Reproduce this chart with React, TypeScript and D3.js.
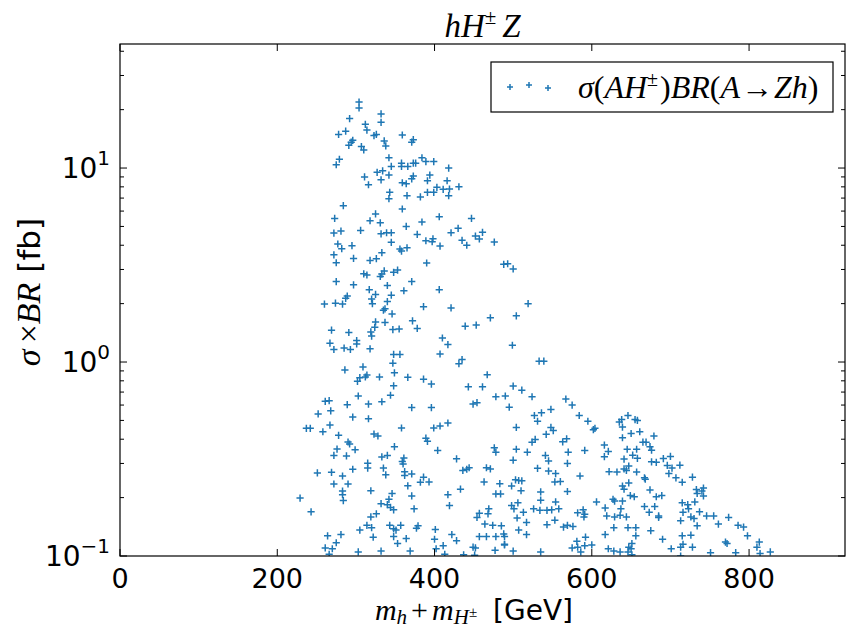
import React from "react";
import * as d3 from "d3";

// m_h + m_H± [GeV]
const massSum: number[] = [
  304,304,332,292,332,312,287,314,278,326,323,359,296,294,291,336,373,371,307,310,338,342,384,279,275,345,358,358,366,373,376,389,399,418,
  327,334,342,311,332,373,371,394,359,364,391,316,416,403,411,419,343,391,399,342,365,382,418,284,359,406,273,325,318,331,384,364,272,281,306,332,339,345,378,345,389,398,397,407,277,295,282,356,365,
  272,275,297,318,326,333,358,390,310,314,331,333,336,348,353,275,297,340,371,317,361,406,325,345,289,287,320,260,274,283,321,340,386,335,337,346,325,337,372,324,378,269,291,319,347,355,320,410,301,267,301,417,272,285,293,318,348,356,407,
  347,309,286,349,314,312,305,302,330,366,386,396,348,303,344,
  261,266,289,316,333,371,396,252,268,296,316,237,242,258,267,358,399,407,417,278,323,328,389,391,290,292,349,276,299,404,272,288,333,340,361,359,360,315,315,335,296,251,269,362,371,338,362,283,386,382,393,272,290,366,319,283,283,229,284,346,371,417,342,332,340,344,348,374,419,243,326,319,314,320,343,357,348,351,305,379,377,401,264,281,322,348,364,400,275,353,411,261,270,402,303,332,369,266,413,
  431,447,430,421,452,461,457,435,441,476,488,493,500,421,519,504,471,439,453,499,435,431,533,539,467,443,461,500,
  511,478,490,524,567,449,454,495,575,548,536,527,531,584,595,635,638,646,655,658,504,548,551,542,602,604,639,650,661,639,524,528,563,568,476,478,504,518,570,591,616,621,616,645,652,657,428,500,541,545,641,658,569,436,441,444,466,471,531,545,554,622,632,641,644,647,657,585,463,483,503,507,511,553,560,647,498,639,641,433,510,569,478,484,535,649,654,506,535,554,606,627,629,639,498,501,526,534,543,549,558,617,637,469,457,468,454,513,505,582,589,591,590,619,629,636,644,464,474,485,517,553,543,564,569,576,628,646,656,507,457,466,478,488,489,517,617,656,422,428,489,489,581,592,651,449,452,575,582,591,600,621,647,650,477,500,535,586,628,636,646,437,451,651,
  679,665,669,674,676,676,682,691,700,696,702,712,698,707,715,728,667,668,674,689,682,733,742,734,740,742,715,722,731,667,680,723,716,737,673,685,685,726,730,746,755,774,713,761,734,786,793,675,715,726,798,690,770,772,813,810,716,713,728,701,751,783,814,827,713,
];

// σ × BR [fb]
const sigmaBR: number[] = [
  21.9,20.4,19.0,18.0,17.2,16.8,15.5,15.7,14.9,14.9,14.7,14.8,13.9,13.6,13.1,13.8,14.0,13.6,12.9,12.4,13.0,11.3,11.3,11.1,10.4,10.2,10.6,10.2,10.2,10.6,10.6,10.8,10.8,10.0,
  9.5,9.67,9.2,9.0,8.7,9.1,8.8,9.2,8.4,8.3,8.6,8.2,8.6,7.95,7.77,7.8,7.5,7.5,7.5,6.95,7.2,7.1,7.2,6.4,6.15,5.61,5.5,5.8,5.35,5.22,5.27,5.0,4.62,4.73,4.77,4.58,4.64,4.64,4.55,4.14,4.22,4.32,4.17,3.96,4.06,3.98,3.84,3.82,3.88,
  3.57,3.25,3.42,3.34,3.41,3.66,3.73,3.24,2.85,2.81,2.76,2.84,2.95,2.90,2.98,2.60,2.50,2.48,2.60,2.36,2.33,2.36,2.23,2.21,2.19,2.13,2.11,1.99,2.01,1.99,2.00,2.05,1.93,1.85,1.88,1.77,1.61,1.60,1.63,1.51,1.49,1.46,1.42,1.43,1.47,1.48,1.36,1.33,1.29,1.25,1.24,1.23,1.16,1.18,1.16,1.17,1.095,1.095,1.10,
  0.987,0.943,0.91,0.88,0.857,0.837,0.83,0.795,0.837,0.834,0.816,0.77,0.754,0.668,0.674,
  0.627,0.632,0.603,0.607,0.624,0.582,0.582,0.54,0.56,0.52,0.51,0.455,0.455,0.437,0.473,0.457,0.457,0.468,0.485,0.419,0.425,0.4155,0.405,0.39,0.387,0.378,0.366,0.356,0.353,0.35,0.33,0.328,0.324,0.33,0.32,0.307,0.298,0.301,0.284,0.284,0.28,0.268,0.27,0.272,0.265,0.262,0.26,0.2585,0.255,0.24,0.241,0.235,0.235,0.23,0.217,0.216,0.207,0.199,0.193,0.21,0.204,0.207,0.196,0.186,0.184,0.178,0.173,0.175,0.182,0.169,0.165,0.159,0.144,0.14,0.144,0.144,0.138,0.136,0.136,0.143,0.139,0.137,0.127,0.129,0.125,0.126,0.123,0.122,0.117,0.116,0.113,0.110,0.109,0.109,0.105,0.106,0.106,0.102,0.102,
  8.01,5.5,4.89,4.64,4.46,4.66,4.31,4.24,4.0,4.155,3.19,3.21,3.02,1.90,2.0,1.73,1.69,1.53,1.55,1.22,1.03,0.98,1.01,1.01,0.86,0.745,0.745,0.752,
  0.716,0.662,0.668,0.662,0.644,0.607,0.617,0.585,0.60,0.57,0.547,0.53,0.495,0.53,0.495,0.49,0.505,0.53,0.505,0.50,0.46,0.46,0.443,0.424,0.448,0.455,0.462,0.428,0.437,0.407,0.386,0.399,0.388,0.402,0.361,0.343,0.355,0.343,0.343,0.35,0.373,0.346,0.325,0.355,0.331,0.355,0.317,0.312,0.33,0.309,0.316,0.319,0.30,0.276,0.28,0.285,0.285,0.281,0.283,0.274,0.266,0.272,0.271,0.281,0.276,0.291,0.271,0.2585,0.241,0.236,0.247,0.245,0.244,0.241,0.242,0.238,0.2295,0.2295,0.221,0.221,0.217,0.215,0.209,0.209,0.214,0.205,0.202,0.188,0.194,0.19,0.19,0.196,0.192,0.192,0.182,0.175,0.175,0.172,0.172,0.173,0.175,0.177,0.175,0.175,0.166,0.165,0.158,0.168,0.157,0.167,0.173,0.164,0.159,0.161,0.159,0.162,0.159,0.146,0.144,0.143,0.149,0.153,0.145,0.141,0.144,0.142,0.14,0.14,0.14,0.136,0.126,0.126,0.126,0.13,0.126,0.129,0.129,0.127,0.129,0.12,0.115,0.114,0.119,0.125,0.116,0.111,0.11,0.11,0.111,0.113,0.114,0.109,0.111,0.109,0.107,0.106,0.105,0.105,0.106,0.105,0.105,0.1015,0.101,0.1015,
  0.4155,0.386,0.386,0.366,0.351,0.306,0.304,0.318,0.326,0.293,0.284,0.294,0.266,0.253,0.24,0.255,0.253,0.249,0.219,0.205,0.202,0.22,0.224,0.21,0.216,0.204,0.188,0.184,0.19,0.18,0.18,0.175,0.168,0.169,0.168,0.161,0.158,0.159,0.156,0.161,0.161,0.158,0.152,0.146,0.143,0.144,0.141,0.135,0.127,0.128,0.127,0.122,0.118,0.116,0.118,0.111,0.115,0.111,0.111,0.109,0.104,0.104,0.103,0.105,0.1,
];

const xTicks: number[] = [0, 200, 400, 600, 800];
const yMajorTicks: number[] = [0.1, 1, 10];
const yExponents: string[] = ["\u22121", "0", "1"];
const yMinorTicks: number[] = [0.2,0.3,0.4,0.5,0.6,0.7,0.8,0.9,2,3,4,5,6,7,8,9,20,30,40];

const W = 848, H = 630;
const L = 120, R = 845, T = 44, B = 556;
const BLUE = "#1f77b4";
const SANS = "'DejaVu Sans', sans-serif";
const MATH = "'Liberation Serif', 'DejaVu Serif', serif";

function Plus({ x, y, s = 3.6 }: { x: number; y: number; s?: number }) {
  return (
    <path d={`M${x - s},${y}H${x + s}M${x},${y - s}V${y + s}`} stroke={BLUE} strokeWidth={1.5} fill="none" />
  );
}

export default function App() {
  const x = d3.scaleLinear().domain([0, 922]).range([L, R]);
  const y = d3.scaleLog().domain([0.1, 43.6]).range([B, T]);
  const n = Math.min(massSum.length, sigmaBR.length);
  const pts = d3.range(n).map((i) => [x(massSum[i]), y(sigmaBR[i])]);

  return (
    <svg width={W} height={H} style={{ display: "block", position: "absolute", left: 0, top: 0, background: "#fff" }}>
      <rect width={W} height={H} fill="#fff" />
      <defs>
        <clipPath id="plotclip">
          <rect x={L} y={T} width={R - L} height={B - T} />
        </clipPath>
      </defs>
      {/* title */}
      <text x={(L + R) / 2} y={37} textAnchor="middle" fontFamily={MATH} fontStyle="italic" fontSize={33}>
        hH<tspan fontSize={21} dy={-13} fontStyle="normal">±</tspan>
        <tspan dy={13} dx={6}>Z</tspan>
      </text>

      {/* points */}
      <g clipPath="url(#plotclip)">
        {pts.map(([px, py], i) => (
          <Plus key={i} x={px} y={py} />
        ))}
      </g>

      {/* ticks */}
      <g stroke="#000" strokeWidth={1}>
        {xTicks.map((t) => (
          <g key={"xt" + t}>
            <line x1={x(t)} x2={x(t)} y1={B} y2={B - 7} />
            <line x1={x(t)} x2={x(t)} y1={T} y2={T + 7} />
          </g>
        ))}
        {yMajorTicks.map((t) => (
          <g key={"yt" + t}>
            <line x1={L} x2={L + 7} y1={y(t)} y2={y(t)} />
            <line x1={R} x2={R - 7} y1={y(t)} y2={y(t)} />
          </g>
        ))}
        {yMinorTicks.map((t) => (
          <g key={"ym" + t}>
            <line x1={L} x2={L + 4} y1={y(t)} y2={y(t)} />
            <line x1={R} x2={R - 4} y1={y(t)} y2={y(t)} />
          </g>
        ))}
      </g>
      <rect x={L} y={T} width={R - L} height={B - T} fill="none" stroke="#000" strokeWidth={1.2} />

      {/* x tick labels */}
      {xTicks.map((t) => (
        <text key={"xl" + t} x={x(t)} y={588} textAnchor="middle" fontFamily={SANS} fontSize={27}>
          {t}
        </text>
      ))}
      {/* y tick labels */}
      {yMajorTicks.map((t, i) => (
        <text key={"yl" + t} x={110} y={y(t) + 10} textAnchor="end" fontFamily={SANS} fontSize={28}>
          10<tspan fontSize={20} dy={-13}>{yExponents[i]}</tspan>
        </text>
      ))}

      {/* x label */}
      <text x={474} y={620} textAnchor="middle" fontSize={30}>
        <tspan fontFamily={MATH} fontStyle="italic">m</tspan>
        <tspan fontFamily={MATH} fontStyle="italic" fontSize={21} dy={4}>h</tspan>
        <tspan fontFamily={MATH} dy={-4} dx={4}>+</tspan>
        <tspan fontFamily={MATH} fontStyle="italic" dx={4}>m</tspan>
        <tspan fontFamily={MATH} fontStyle="italic" fontSize={21} dy={4}>H</tspan>
        <tspan fontFamily={MATH} fontSize={15} dy={-7}>±</tspan>
        <tspan fontFamily={SANS} fontSize={28} dy={3} dx={16}>{"[GeV]"}</tspan>
      </text>

      {/* y label */}
      <text transform={`translate(40,292) rotate(-90)`} textAnchor="middle" fontSize={34}>
        <tspan fontFamily={MATH} fontStyle="italic">σ</tspan>
        <tspan fontFamily={MATH} dx={6}>×</tspan>
        <tspan fontFamily={MATH} fontStyle="italic">BR</tspan>
        <tspan fontFamily={SANS} fontSize={31} dx={10}>{"[fb]"}</tspan>
      </text>

      {/* legend */}
      <rect x={491} y={62} width={342} height={50} fill="#fff" stroke="#000" strokeWidth={1.2} />
      <Plus x={510} y={87} s={3} />
      <Plus x={529} y={85} s={3} />
      <Plus x={548} y={88} s={3} />
      <text x={578} y={98} fontFamily={MATH} fontSize={32}>
        <tspan fontStyle="italic">σ</tspan>(<tspan fontStyle="italic">AH</tspan>
        <tspan fontSize={20} dy={-12}>±</tspan>
        <tspan dy={12} dx={2}>)</tspan>
        <tspan fontStyle="italic">BR</tspan>(<tspan fontStyle="italic">A</tspan>
        <tspan dx={1}>→</tspan>
        <tspan fontStyle="italic" dx={1}>Zh</tspan>)
      </text>
    </svg>
  );
}
